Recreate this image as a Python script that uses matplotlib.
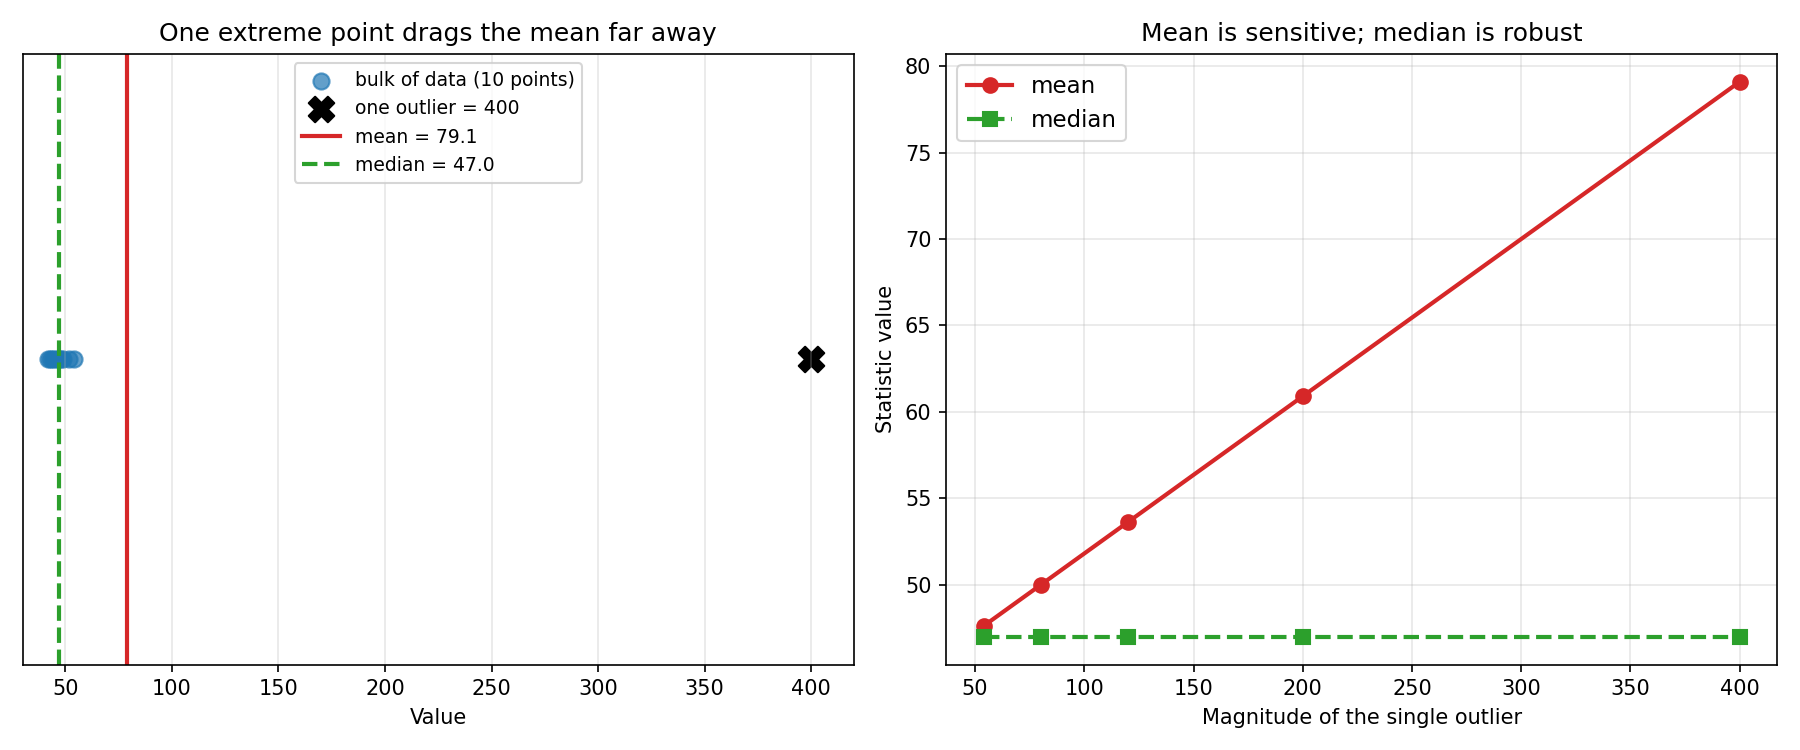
import matplotlib.pyplot as plt
import numpy as np

bulk = [42, 43, 44, 45, 46, 47, 48, 49, 52, 54]
outlier = 400
outlier_sizes = [54, 80, 120, 200, 400]

def stats(x):
    data = np.array(bulk + [x])
    return data.mean(), np.median(data)

all_data = np.array(bulk + [outlier])
mean_val = all_data.mean()
median_val = np.median(all_data)

means = [stats(x)[0] for x in outlier_sizes]
medians = [stats(x)[1] for x in outlier_sizes]

fig, (ax1, ax2) = plt.subplots(1, 2, figsize=(12, 5), dpi=150)

# left: the data on a line
ax1.scatter(bulk, np.zeros(len(bulk)), s=60, alpha=0.7, color='tab:blue',
            label='bulk of data (10 points)')
ax1.scatter([outlier], [0], s=150, marker='X', color='black',
            label='one outlier = %d' % outlier)
ax1.axvline(mean_val, color='tab:red', lw=2, label='mean = %.1f' % mean_val)
ax1.axvline(median_val, color='tab:green', lw=2, ls='--',
            label='median = %.1f' % median_val)
ax1.set_yticks([])
ax1.set_ylim(-1, 1)
ax1.set_xlim(30, 420)
ax1.set_xlabel('Value')
ax1.set_title('One extreme point drags the mean far away', fontsize=12)
ax1.grid(axis='x', alpha=0.3)
ax1.legend(loc='upper center', fontsize=9)

# right: stats vs outlier size
ax2.plot(outlier_sizes, means, 'o-', color='tab:red', lw=2, ms=7, label='mean')
ax2.plot(outlier_sizes, medians, 's--', color='tab:green', lw=2, ms=7, label='median')
ax2.set_xlabel('Magnitude of the single outlier')
ax2.set_ylabel('Statistic value')
ax2.set_title('Mean is sensitive; median is robust', fontsize=12)
ax2.grid(alpha=0.3)
ax2.legend(fontsize=11)

plt.tight_layout()
plt.savefig('out.png')
